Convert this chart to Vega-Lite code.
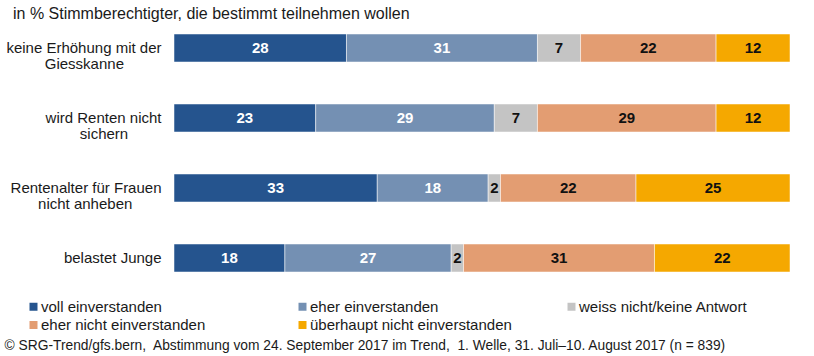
{
  "$schema": "https://vega.github.io/schema/vega-lite/v6.json",
  "width": 616,
  "height": 280,
  "autosize": {"type": "none"},
  "padding": {"left": 174, "top": 13, "right": 24, "bottom": 63},
  "background": "white",
  "config": {
    "view": {"stroke": null},
    "font": "Liberation Sans",
    "text": {"font": "Liberation Sans"}
  },
  "title": {
    "text": "in % Stimmberechtigter, die bestimmt teilnehmen wollen",
    "anchor": "start",
    "frame": "group",
    "dx": -161,
    "dy": 13,
    "offset": 4,
    "fontSize": 16,
    "fontWeight": "normal",
    "font": "Liberation Sans",
    "color": "#1a1a1a"
  },
  "data": {
    "values": [
      {"item": "keine Erhöhung mit der|Giesskanne\u00a0\u00a0\u00a0\u00a0\u00a0\u00a0\u00a0\u00a0\u00a0\u200b", "cat": "voll einverstanden", "k": 1, "v": 28},
      {"item": "keine Erhöhung mit der|Giesskanne\u00a0\u00a0\u00a0\u00a0\u00a0\u00a0\u00a0\u00a0\u00a0\u200b", "cat": "eher einverstanden", "k": 2, "v": 31},
      {"item": "keine Erhöhung mit der|Giesskanne\u00a0\u00a0\u00a0\u00a0\u00a0\u00a0\u00a0\u00a0\u00a0\u200b", "cat": "weiss nicht/keine Antwort", "k": 3, "v": 7},
      {"item": "keine Erhöhung mit der|Giesskanne\u00a0\u00a0\u00a0\u00a0\u00a0\u00a0\u00a0\u00a0\u00a0\u200b", "cat": "eher nicht einverstanden", "k": 4, "v": 22},
      {"item": "keine Erhöhung mit der|Giesskanne\u00a0\u00a0\u00a0\u00a0\u00a0\u00a0\u00a0\u00a0\u00a0\u200b", "cat": "überhaupt nicht einverstanden", "k": 5, "v": 12},
      {"item": "wird Renten nicht|sichern\u00a0\u00a0\u00a0\u00a0\u00a0\u00a0\u00a0\u00a0\u200b", "cat": "voll einverstanden", "k": 1, "v": 23},
      {"item": "wird Renten nicht|sichern\u00a0\u00a0\u00a0\u00a0\u00a0\u00a0\u00a0\u00a0\u200b", "cat": "eher einverstanden", "k": 2, "v": 29},
      {"item": "wird Renten nicht|sichern\u00a0\u00a0\u00a0\u00a0\u00a0\u00a0\u00a0\u00a0\u200b", "cat": "weiss nicht/keine Antwort", "k": 3, "v": 7},
      {"item": "wird Renten nicht|sichern\u00a0\u00a0\u00a0\u00a0\u00a0\u00a0\u00a0\u00a0\u200b", "cat": "eher nicht einverstanden", "k": 4, "v": 29},
      {"item": "wird Renten nicht|sichern\u00a0\u00a0\u00a0\u00a0\u00a0\u00a0\u00a0\u00a0\u200b", "cat": "überhaupt nicht einverstanden", "k": 5, "v": 12},
      {"item": "Rentenalter für Frauen|nicht anheben\u00a0\u00a0\u00a0\u00a0\u00a0\u00a0\u00a0\u200b", "cat": "voll einverstanden", "k": 1, "v": 33},
      {"item": "Rentenalter für Frauen|nicht anheben\u00a0\u00a0\u00a0\u00a0\u00a0\u00a0\u00a0\u200b", "cat": "eher einverstanden", "k": 2, "v": 18},
      {"item": "Rentenalter für Frauen|nicht anheben\u00a0\u00a0\u00a0\u00a0\u00a0\u00a0\u00a0\u200b", "cat": "weiss nicht/keine Antwort", "k": 3, "v": 2},
      {"item": "Rentenalter für Frauen|nicht anheben\u00a0\u00a0\u00a0\u00a0\u00a0\u00a0\u00a0\u200b", "cat": "eher nicht einverstanden", "k": 4, "v": 22},
      {"item": "Rentenalter für Frauen|nicht anheben\u00a0\u00a0\u00a0\u00a0\u00a0\u00a0\u00a0\u200b", "cat": "überhaupt nicht einverstanden", "k": 5, "v": 25},
      {"item": "belastet Junge", "cat": "voll einverstanden", "k": 1, "v": 18},
      {"item": "belastet Junge", "cat": "eher einverstanden", "k": 2, "v": 27},
      {"item": "belastet Junge", "cat": "weiss nicht/keine Antwort", "k": 3, "v": 2},
      {"item": "belastet Junge", "cat": "eher nicht einverstanden", "k": 4, "v": 31},
      {"item": "belastet Junge", "cat": "überhaupt nicht einverstanden", "k": 5, "v": 22}
    ]
  },
  "encoding": {
    "y": {
      "field": "item",
      "type": "nominal",
      "sort": null,
      "scale": {"paddingInner": 0.6, "paddingOuter": 0.3},
      "axis": {
        "title": null,
        "domain": false,
        "ticks": false,
        "labelExpr": "split(datum.label, '|')",
        "labelFontSize": 15,
        "labelLineHeight": 16,
        "labelPadding": 13,
        "labelColor": "#1a1a1a",
        "labelLimit": 300,
        "labelFont": "Liberation Sans"
      }
    },
    "x": {
      "field": "v",
      "type": "quantitative",
      "stack": "zero",
      "scale": {"domain": [0, 100], "nice": false},
      "axis": {
        "labels": false,
        "ticks": false,
        "domain": false,
        "grid": false,
        "title": "© SRG-Trend/gfs.bern,\u00a0 Abstimmung vom 24. September 2017 im Trend,\u00a0 1. Welle, 31. Juli–10. August 2017 (n = 839)",
        "titleFontSize": 13.8,
        "titleFontWeight": "normal",
        "titleFont": "Liberation Sans",
        "titleColor": "#1a1a1a",
        "titleAlign": "left",
        "titleAnchor": null,
        "titleBaseline": "alphabetic",
        "titleX": -170,
        "titleY": 56
      }
    },
    "order": {"field": "k", "type": "quantitative"}
  },
  "layer": [
    {
      "mark": {"type": "bar", "stroke": "white", "strokeWidth": 0.5},
      "encoding": {
        "color": {
          "field": "cat",
          "type": "nominal",
          "scale": {
            "domain": ["voll einverstanden", "eher einverstanden", "weiss nicht/keine Antwort", "eher nicht einverstanden", "überhaupt nicht einverstanden"],
            "range": ["#25548E", "#7490B3", "#C4C4C4", "#E39D72", "#F5A800"]
          },
          "legend": {
            "orient": "none",
            "legendX": -148,
            "legendY": 286,
            "direction": "horizontal",
            "columns": 3,
            "title": null,
            "symbolType": "square",
            "symbolSize": 64,
            "symbolStrokeWidth": 0,
            "labelFontSize": 15,
            "labelFont": "Liberation Sans",
            "labelColor": "#1a1a1a",
            "labelOffset": 0,
            "labelLimit": 300,
            "gridAlign": "all",
            "columnPadding": 52,
            "rowPadding": 2.5
          }
        }
      }
    },
    {
      "mark": {"type": "text", "fontSize": 15, "fontWeight": "bold", "baseline": "middle", "align": "center"},
      "encoding": {
        "x": {"field": "v", "type": "quantitative", "stack": "zero", "bandPosition": 0.5},
        "text": {"field": "v", "type": "quantitative"},
        "color": {"condition": {"test": "datum.k <= 2", "value": "white"}, "value": "#111111"}
      }
    }
  ]
}
